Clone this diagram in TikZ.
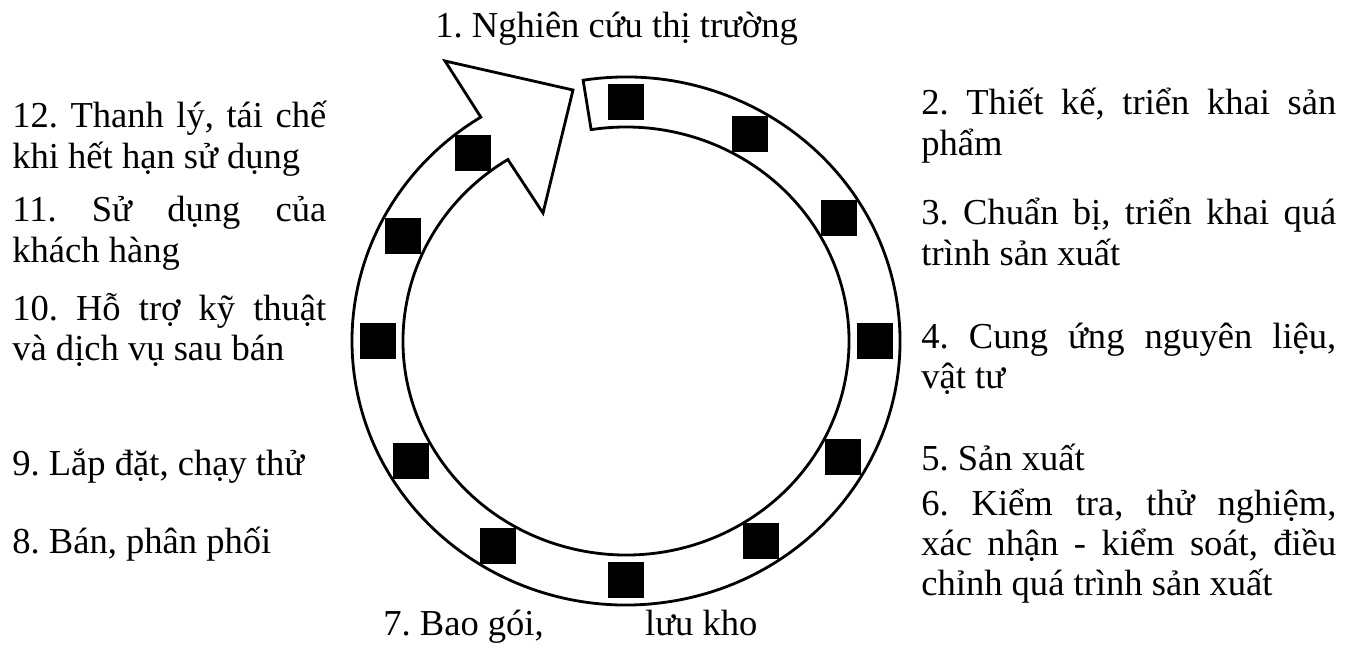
\documentclass[tikz,border=0pt]{standalone}
\usepackage{fontspec}
\setmainfont{Liberation Serif}
\frenchspacing
\definecolor{PcInk}{RGB}{0,0,0}
\tikzset{
  pc/ring/.style={draw=PcInk, line width=1.6pt, fill=white, line join=miter},
  pc/mark/.style={fill=PcInk, minimum size=0.72cm, inner sep=0pt},
  pc/label/.style={font=\fontsize{20.8}{23}\selectfont, inner sep=0pt, text=PcInk},
  pc/leftblock/.style={pc/label, text width=6.28cm, align=justify, anchor=base west},
  pc/rightblock/.style={pc/label, text width=8.3cm, align=justify, anchor=base west}
}

\begin{document}
\begin{tikzpicture}[x=1cm,y=1cm]
  \useasboundingbox (0,0) rectangle (27.04,12.98);
  \coordinate (ctr) at (12.52,6.16);
  % corners of the arrow head
  \coordinate (tip) at (11.46,11.18);
  \coordinate (barbout) at (8.90,11.76);
  \coordinate (barbin) at (10.86,8.72);
  \coordinate (inend) at ([shift={(-238:4.46cm and 4.28cm)}]ctr);
  % the ring, open at the top, ending in the arrow head
  \draw[pc/ring] ([shift={(99:5.48cm and 5.28cm)}]ctr)
    arc[start angle=99, end angle=-238, x radius=5.48cm, y radius=5.28cm]
    -- (barbout) -- (tip) -- (barbin) -- (inend)
    arc[start angle=-238, end angle=99, x radius=4.46cm, y radius=4.28cm]
    -- cycle;
  % one mark per stage
  \foreach \a [count=\i] in {90,60,31,0,-29,-57,-90,-121,-150,180,154,128}
    \node[pc/mark] (m\i) at ([shift={(\a:4.97cm and 4.78cm)}]ctr) {};

  \node[pc/label, anchor=base west] (s1) at (8.70,12.22) {1. Nghiên cứu thị trường};
  \node[pc/rightblock] (s2) at (18.42,10.68) {2. Thiết kế, triển khai sản\linebreak phẩm};
  \node[pc/rightblock] (s3) at (18.42,8.48) {3. Chuẩn bị, triển khai quá\linebreak trình sản xuất};
  \node[pc/rightblock] (s4) at (18.42,6.02) {4. Cung ứng nguyên liệu,\linebreak vật tư};
  \node[pc/label, anchor=base west] (s5) at (18.42,3.58) {5. Sản xuất};
  \node[pc/rightblock] (s6) at (18.42,2.68) {6. Kiểm tra, thử nghiệm,\linebreak xác nhận - kiểm soát, điều\linebreak chỉnh quá trình sản xuất};
  \node[pc/label, anchor=base west] (s7) at (7.66,0.28) {\makebox[7.48cm]{7. Bao gói,\hfill lưu kho}};
  \node[pc/label, anchor=base west] (s8) at (0.24,1.92) {8. Bán, phân phối};
  \node[pc/label, anchor=base west] (s9) at (0.24,3.48) {9. Lắp đặt, chạy thử};
  \node[pc/leftblock] (s10) at (0.24,6.58) {10. Hỗ trợ kỹ thuật\linebreak và dịch vụ sau bán};
  \node[pc/leftblock] (s11) at (0.24,8.54) {11. Sử dụng của\linebreak khách hàng};
  \node[pc/leftblock] (s12) at (0.24,10.42) {12. Thanh lý, tái chế\linebreak khi hết hạn sử dụng};
\end{tikzpicture}
\end{document}
